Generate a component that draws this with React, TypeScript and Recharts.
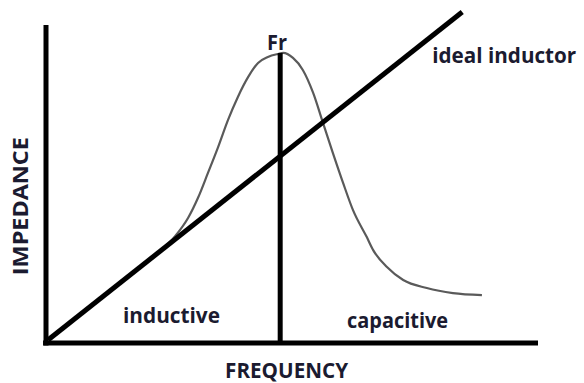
import React from 'react';
import { ComposedChart, Line, XAxis, YAxis, ReferenceLine, ReferenceDot } from 'recharts';

// Ideal inductor: straight line of impedance vs frequency
const inductorX = [0.4, 84.6];
const inductorY = [0.9, 99.4];

// Real inductor impedance curve (resonance peak at Fr)
const curveX = [23.0, 26.2, 28.9, 30.9, 32.9, 35.0, 37.0, 39.0, 41.1, 43.1, 45.1, 47.2, 48.2, 50.2, 52.2, 54.3, 56.3, 58.3, 60.4, 62.4, 65.2, 66.5, 69.3, 72.6, 77.4, 82.7, 88.6];
const curveY = [27.4, 32.0, 37.6, 43.6, 51.0, 58.9, 67.0, 73.9, 79.9, 84.1, 85.9, 86.8, 87.1, 85.6, 82.0, 75.1, 66.1, 57.1, 48.0, 39.9, 31.8, 27.9, 22.8, 18.9, 16.5, 15.0, 14.4];

// Resonant frequency marker
const frX = 47.6;
const frTop = 87.1;

// Axis extents
const xAxisStart = -0.6;
const xAxisEnd = 100;
const yAxisStart = -0.75;
const yAxisEnd = 95.5;

// Annotations
const annoText = ['Fr', 'ideal inductor', 'inductive', 'capacitive'];
const annoX = [46.95, 78.5, 15.65, 61.2];
const annoY = [88.0, 84.1, 6.0, 4.5];
const annoAnchor = ['middle', 'start', 'start', 'start'];
const annoWidth = [20, 144, 97, 101];
const annoSize = [21, 21, 22, 22];

const xTitle = 'FREQUENCY';
const yTitle = 'IMPEDANCE';

const inductorData = inductorX.map((x, i) => ({ x, y: inductorY[i] }));
const curveData = curveX.map((x, i) => ({ x, y: curveY[i] }));

const TEXT_COLOR = '#1b1b30';
const FONT = '"Open Sans", sans-serif';

const makeLabel = (text: string, anchor: string, size: number, len: number, rotate = false) => (props: any) => {
  const vb = props.viewBox || {};
  const x = vb.x ?? 0;
  const y = vb.y ?? 0;
  return (
    <text
      x={x}
      y={y}
      textAnchor={anchor as any}
      fontFamily={FONT}
      fontWeight={700}
      fontSize={size}
      fill={TEXT_COLOR}
      textLength={len}
      lengthAdjust="spacingAndGlyphs"
      transform={rotate ? `rotate(-90 ${x} ${y})` : undefined}
    >
      {text}
    </text>
  );
};

export default function App() {
  return (
    <div style={{ position: 'absolute', left: 0, top: 0, background: '#fff' }}>
      <ComposedChart
        width={584}
        height={383}
        margin={{ top: 10, right: 46, bottom: 40, left: 46 }}
      >
        <XAxis type="number" dataKey="x" domain={[0, 100]} hide allowDataOverflow />
        <YAxis type="number" dataKey="y" domain={[0, 100]} hide allowDataOverflow />

        <ReferenceLine
          segment={[{ x: xAxisStart, y: 0 }, { x: xAxisEnd, y: 0 }]}
          stroke="#000"
          strokeWidth={5}
          ifOverflow="visible"
        />
        <ReferenceLine
          segment={[{ x: 0, y: yAxisStart }, { x: 0, y: yAxisEnd }]}
          stroke="#000"
          strokeWidth={5}
          ifOverflow="visible"
        />

        <Line
          data={curveData}
          dataKey="y"
          type="monotone"
          stroke="#5a5a5a"
          strokeWidth={2.2}
          dot={false}
          activeDot={false}
          isAnimationActive={false}
        />
        <Line
          data={inductorData}
          dataKey="y"
          type="linear"
          stroke="#000"
          strokeWidth={5}
          dot={false}
          activeDot={false}
          isAnimationActive={false}
        />
        <ReferenceLine
          segment={[{ x: frX, y: 0 }, { x: frX, y: frTop }]}
          stroke="#000"
          strokeWidth={5}
          ifOverflow="visible"
        />

        {annoText.map((t, i) => (
          <ReferenceDot
            key={t}
            x={annoX[i]}
            y={annoY[i]}
            r={0}
            fill="none"
            stroke="none"
            ifOverflow="visible"
            label={makeLabel(t, annoAnchor[i], annoSize[i], annoWidth[i])}
          />
        ))}
        <ReferenceDot
          x={48.9}
          y={-10.5}
          r={0}
          fill="none"
          stroke="none"
          ifOverflow="visible"
          label={makeLabel(xTitle, 'middle', 21, 123)}
        />
        <ReferenceDot
          x={-3.66}
          y={41.1}
          r={0}
          fill="none"
          stroke="none"
          ifOverflow="visible"
          label={makeLabel(yTitle, 'middle', 21, 138, true)}
        />
      </ComposedChart>
    </div>
  );
}
